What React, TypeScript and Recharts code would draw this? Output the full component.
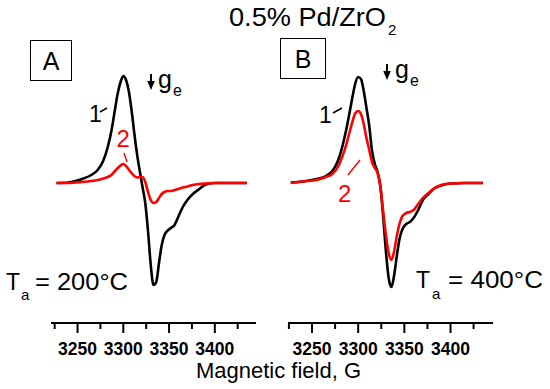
import { Line, LineChart, XAxis, YAxis } from 'recharts';

// magnetic field grid (G) shared by every trace
const field = [
  3227, 3240, 3255, 3265, 3272, 3278, 3283, 3287, 3291, 3294, 3297, 3300, 3303,
  3306, 3309, 3312, 3315, 3318, 3321, 3324, 3327, 3330, 3333, 3336, 3339, 3342,
  3345, 3348, 3352, 3356, 3360, 3365, 3370, 3376, 3383, 3390, 3400, 3415, 3435,
];

// panel A, Ta = 200°C
const curve1A = [
  0, 0.5, 4, 8, 13, 22, 36, 52, 74, 90, 101, 107, 103,
  92, 73, 50, 29, 12, -4, -20, -48, -82, -102, -99, -80, -62,
  -52, -48, -45, -42, -34, -24, -17, -11, -6, -1.5, 0, 0, 0,
];
const curve2A = [
  0, 0, 1, 2, 3, 4.5, 6, 8, 12, 15, 17.5, 19, 17,
  13.5, 10, 7, 5.5, 6, 6, 1, -9, -17, -20, -19, -15, -11,
  -9, -8, -8, -7, -6, -4.5, -3.5, -2, -1, -0.5, 0, 0, 0,
];

// panel B, Ta = 400°C
const curve1B = [
  0.5, 1.5, 4, 7, 12, 22, 37, 53, 72, 87, 100, 106, 104,
  92, 75, 57, 32, 19, 11, -3, -33, -68, -95, -104, -92, -72,
  -55, -46, -41, -39, -35, -27, -17, -11, -5, -2.5, -0.5, 0, 0,
];
const curve2B = [
  0, 1.5, 3, 6, 9, 16, 27, 38, 52, 62, 70, 72, 69,
  59, 45, 33, 21, 15, 10, -3, -28, -52, -70, -77, -68, -52,
  -40, -33, -30, -29, -27, -21, -15, -10, -5, -2, -0.5, 0, 0,
];

const fieldTicks = [3225, 3250, 3275, 3300, 3325, 3350, 3375, 3400, 3425];
const labelledTicks = [3250, 3300, 3350, 3400];

const FONT = '"Liberation Sans", Arial, sans-serif';

function FieldTick({ x, y, payload }: { x?: number; y?: number; payload?: { value: number } }) {
  const v = payload?.value ?? 0;
  const major = labelledTicks.includes(v);
  return (
    <g>
      <line x1={x} x2={x} y1={y} y2={(y ?? 0) + (major ? 10 : 6)} stroke="#000" strokeWidth={2} />
      {major && (
        <text x={x} y={(y ?? 0) + 32} textAnchor="middle" fontFamily={FONT} fontSize={17.5} fontWeight="bold" fill="#000">
          {v}
        </text>
      )}
    </g>
  );
}

type PanelProps = {
  left: number;
  marginLeft: number;
  marginRight: number;
  domain: [number, number];
  black: number[];
  red: number[];
};

function Panel({ left, marginLeft, marginRight, domain, black, red }: PanelProps) {
  const rows = field.map((g, i) => ({ g, c1: black[i], c2: red[i] }));
  return (
    <div style={{ position: 'absolute', left, top: 0 }}>
      <LineChart width={275} height={389} data={rows} margin={{ top: 40, right: marginRight, bottom: 16, left: marginLeft }}>
        <XAxis
          dataKey="g"
          type="number"
          domain={domain}
          allowDataOverflow
          ticks={fieldTicks}
          interval={0}
          height={50}
          tickSize={0}
          tickMargin={0}
          tickLine={false}
          axisLine={{ stroke: '#000', strokeWidth: 2 }}
          tick={(p: any) => <FieldTick {...p} />}
        />
        <YAxis hide domain={[-140, 143]} allowDataOverflow />
        <Line type="monotone" dataKey="c1" stroke="#000" strokeWidth={2.6} dot={false} isAnimationActive={false} />
        <Line type="monotone" dataKey="c2" stroke="#ff0000" strokeWidth={2.6} dot={false} isAnimationActive={false} />
      </LineChart>
    </div>
  );
}

function Arrow({ x, y }: { x: number; y: number }) {
  return (
    <g>
      <line x1={x} x2={x} y1={y} y2={y + 9} stroke="#000" strokeWidth={2} />
      <polygon points={`${x - 3.8},${y + 7} ${x + 3.8},${y + 7} ${x},${y + 16}`} fill="#000" />
    </g>
  );
}

export default function App() {
  return (
    <div style={{ position: 'absolute', left: 0, top: 0, width: 550, height: 389, background: '#fff', overflow: 'hidden' }}>
      <Panel left={0} marginLeft={51} marginRight={19} domain={[3221, 3445]} black={curve1A} red={curve2A} />
      <Panel left={275} marginLeft={13} marginRight={57} domain={[3224, 3446]} black={curve1B} red={curve2B} />
      <svg width={550} height={389} style={{ position: 'absolute', left: 0, top: 0, pointerEvents: 'none' }} fontFamily={FONT}>
        <text x={229} y={26} fontSize={25} textLength={157} lengthAdjust="spacingAndGlyphs">0.5% Pd/ZrO</text>
        <text x={388} y={35} fontSize={15}>2</text>

        <rect x={30.5} y={40.5} width={41} height={40} fill="none" stroke="#000" strokeWidth={1} />
        <text x={51} y={70} fontSize={25} textAnchor="middle">A</text>
        <rect x={280.5} y={38.5} width={45} height={40} fill="none" stroke="#000" strokeWidth={1} />
        <text x={303} y={68} fontSize={25} textAnchor="middle">B</text>

        <Arrow x={151} y={74} />
        <text x={158} y={88} fontSize={25}>g</text>
        <text x={173} y={96} fontSize={16}>e</text>
        <Arrow x={387} y={64} />
        <text x={395} y={78} fontSize={25}>g</text>
        <text x={410} y={86} fontSize={16}>e</text>

        <text x={89} y={122} fontSize={23}>1</text>
        <line x1={100} y1={112} x2={107} y2={108} stroke="#000" strokeWidth={1.5} />
        <text x={116.5} y={147} fontSize={24} fill="#ff0000">2</text>
        <line x1={124} y1={153} x2={127} y2={162} stroke="#ff0000" strokeWidth={1.5} />

        <text x={319} y={123} fontSize={23}>1</text>
        <line x1={333} y1={113} x2={342} y2={108} stroke="#000" strokeWidth={1.5} />
        <text x={338} y={202} fontSize={24} fill="#ff0000">2</text>
        <line x1={348} y1={175} x2={360} y2={160} stroke="#ff0000" strokeWidth={1.5} />

        <text x={6} y={290} fontSize={23}>T</text>
        <text x={21} y={300} fontSize={15}>a</text>
        <text x={35} y={290} fontSize={23} textLength={93} lengthAdjust="spacingAndGlyphs">= 200°C</text>

        <text x={416} y={288} fontSize={23}>T</text>
        <text x={432} y={299} fontSize={15}>a</text>
        <text x={448} y={288} fontSize={23} textLength={95} lengthAdjust="spacingAndGlyphs">= 400°C</text>

        <text x={278.5} y={378} fontSize={22} textAnchor="middle">Magnetic field, G</text>
      </svg>
    </div>
  );
}
